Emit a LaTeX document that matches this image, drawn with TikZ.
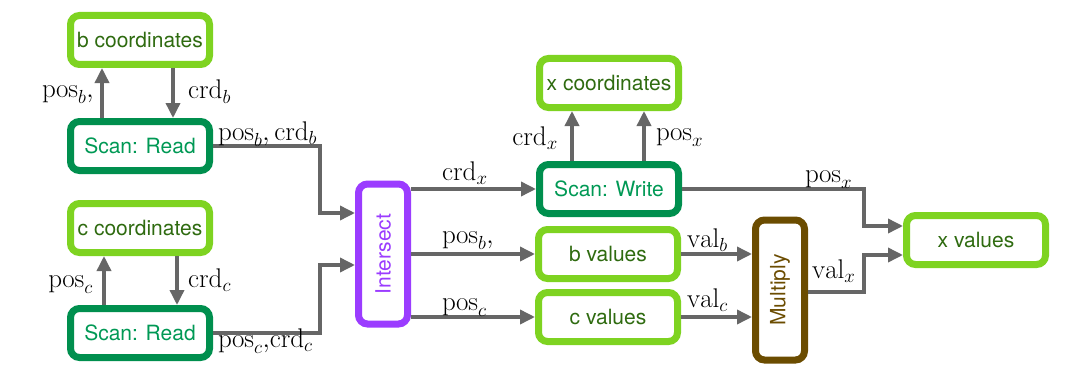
\RequirePackage{fix-cm}
\documentclass[tikz,border=0pt]{standalone}
\usepackage{fontspec}
\setsansfont{TeX Gyre Heros}
\usetikzlibrary{arrows.meta}

\definecolor{limeg}{HTML}{7ED321}
\definecolor{storetxt}{HTML}{2F6B10}
\definecolor{scang}{HTML}{008F4E}
\definecolor{scantxt}{HTML}{009955}
\definecolor{intpurple}{HTML}{9B3CFF}
\definecolor{mulbrown}{HTML}{6B4C00}
\definecolor{arrgray}{HTML}{666666}

\begin{document}
\begin{tikzpicture}[x=1pt,y=-1pt,
  box/.style={rounded corners=9pt, line width=7pt, inner sep=0pt,
    minimum width=139pt, minimum height=49pt, fill=white,
    font=\sffamily\fontsize{21}{25}\selectfont},
  store/.style={box, draw=limeg, text=storetxt},
  scan/.style={box, draw=scang, text=scantxt},
  tall/.style={box, minimum width=49pt, minimum height=140pt},
  arr/.style={-{Triangle[length=15pt,width=14pt]}, line width=3.5pt, draw=arrgray},
  lab/.style={inner sep=0pt, font=\fontsize{27}{32}\selectfont}]

\useasboundingbox (0,0) rectangle (1081,369);

% storage and scanner nodes
\node[store] (bco) at (140,40)  {b coordinates};
\node[scan]  (bsr) at (140,146) {Scan: Read};
\node[store] (cco) at (140,228) {c coordinates};
\node[scan]  (csr) at (140,333) {Scan: Read};
\node[tall, draw=intpurple] (inter) at (383,254) {};
\node[rotate=90, text=intpurple, font=\sffamily\fontsize{21}{25}\selectfont] (intertxt) at (inter.center) {Intersect};
\node[store] (xco) at (609,83)  {x coordinates};
\node[scan]  (sw)  at (609,189) {Scan: Write};
\node[store] (bv)  at (608,254) {b values};
\node[store] (cv)  at (608,317) {c values};
\node[tall, draw=mulbrown] (mul) at (780,290) {};
\node[rotate=90, text=mulbrown, font=\sffamily\fontsize{21}{25}\selectfont] (multxt) at (mul.center) {Multiply};
\node[store] (xv)  at (976,240) {x values};

% b operand
\draw[arr] ([xshift=-38pt]bsr.north) -- ([xshift=-38pt]bco.south);
\draw[arr] ([xshift=33pt]bco.south) -- ([xshift=33pt]bsr.north);
\draw[arr] (bsr.east) -| ([xshift=-35pt,yshift=41pt]inter.west) -- ([yshift=41pt]inter.west);

% c operand
\draw[arr] ([xshift=-36pt]csr.north) -- ([xshift=-36pt]cco.south);
\draw[arr] ([xshift=37pt]cco.south) -- ([xshift=37pt]csr.north);
\draw[arr] (csr.east) -| ([xshift=-35pt,yshift=-11pt]inter.west) -- ([yshift=-11pt]inter.west);

% intersection outputs
\draw[arr] (inter.east |- sw.west) -- (sw.west);
\draw[arr] (inter.east |- bv.west) -- (bv.west);
\draw[arr] (inter.east |- cv.west) -- (cv.west);

% result coordinates
\draw[arr] ([xshift=-37pt]sw.north) -- ([xshift=-37pt]xco.south);
\draw[arr] ([xshift=35pt]sw.north) -- ([xshift=35pt]xco.south);
\draw[arr] (sw.east) -| ([xshift=-39pt,yshift=14pt]xv.west) -- ([yshift=14pt]xv.west);

% values
\draw[arr] (bv.east) -- (mul.west |- bv.east);
\draw[arr] (cv.east) -- (mul.west |- cv.east);
\draw[arr] ([yshift=-2pt]mul.east) -| ([xshift=-39pt,yshift=-15pt]xv.west) -- ([yshift=-15pt]xv.west);

% edge labels
\node[lab, anchor=base east] (l1) at (94,97)  {$\mathrm{pos}_b,$};
\node[lab, anchor=base west] (l2) at (188,99) {$\mathrm{crd}_b$};
\node[lab, anchor=base west] (l3) at (218,140) {$\mathrm{pos}_b, \mathrm{crd}_b$};
\node[lab, anchor=base east] (l4) at (93,287) {$\mathrm{pos}_c$};
\node[lab, anchor=base west] (l5) at (188,287) {$\mathrm{crd}_c$};
\node[lab, anchor=base west] (l6) at (218,347) {$\mathrm{pos}_c{,}\mathrm{crd}_c$};
\node[lab, anchor=base west] (l7) at (442,180) {$\mathrm{crd}_x$};
\node[lab, anchor=base west] (l8) at (442,243) {$\mathrm{pos}_b,$};
\node[lab, anchor=base west] (l9) at (442,310) {$\mathrm{pos}_c$};
\node[lab, anchor=base east] (l10) at (558,145) {$\mathrm{crd}_x$};
\node[lab, anchor=base west] (l11) at (656,140) {$\mathrm{pos}_x$};
\node[lab, anchor=base west] (l12) at (687,247) {$\mathrm{val}_b$};
\node[lab, anchor=base west] (l13) at (687,307) {$\mathrm{val}_c$};
\node[lab, anchor=base west] (l14) at (805,182) {$\mathrm{pos}_x$};
\node[lab, anchor=base west] (l15) at (812,278) {$\mathrm{val}_x$};
\end{tikzpicture}
\end{document}
